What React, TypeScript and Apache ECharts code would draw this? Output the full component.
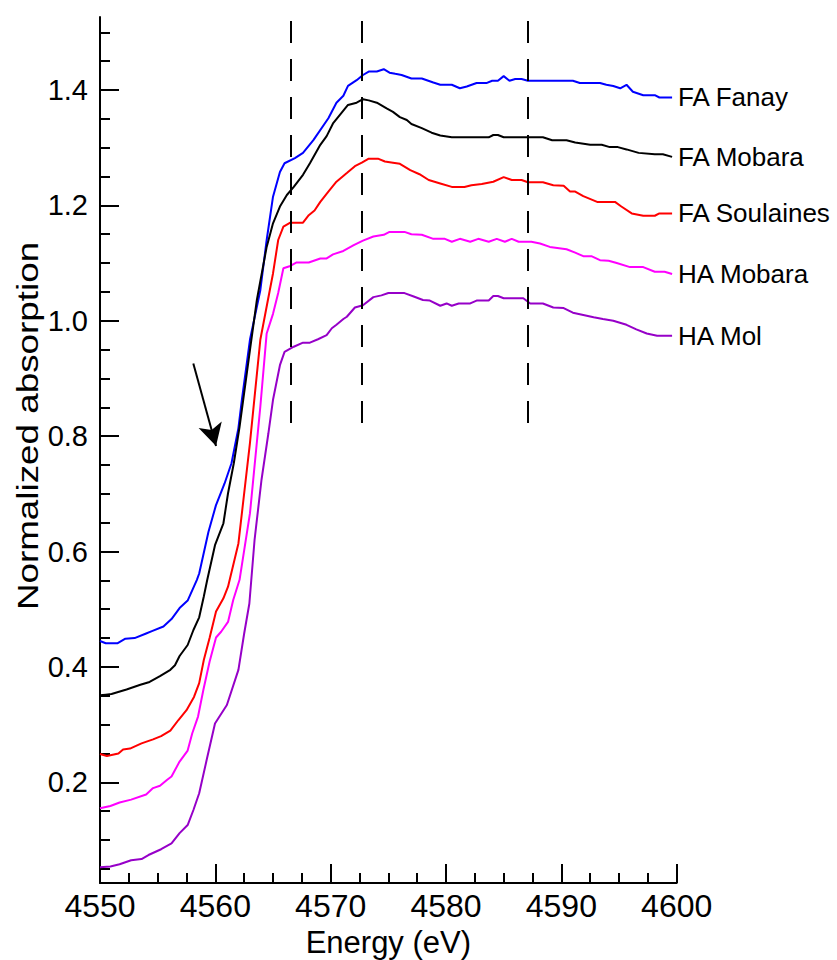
import React, { useEffect, useRef } from "react";
import * as echarts from "echarts";

// ---- Data (energy eV, normalized absorption) ----
const faFanay: [number, number][] = [
  [4550.0, 0.445], [4550.5, 0.441], [4551.5, 0.441], [4552.2, 0.449], [4553.0, 0.450],
  [4554.0, 0.458], [4554.5, 0.462], [4555.5, 0.470], [4556.2, 0.483], [4556.9, 0.502],
  [4557.6, 0.515], [4558.4, 0.551], [4558.6, 0.562], [4559.4, 0.634], [4560.05, 0.680],
  [4560.8, 0.718], [4561.4, 0.753], [4562.0, 0.814], [4562.3, 0.863], [4563.0, 0.967],
  [4563.9, 1.053], [4564.45, 1.140], [4565.0, 1.215], [4565.6, 1.258], [4566.0, 1.273],
  [4566.9, 1.282], [4567.6, 1.291], [4568.5, 1.313], [4569.8, 1.351], [4570.5, 1.378],
  [4571.1, 1.390], [4571.5, 1.407], [4572.25, 1.417], [4572.8, 1.426], [4573.3, 1.432],
  [4574.0, 1.432], [4574.6, 1.436], [4575.1, 1.430], [4575.6, 1.428], [4576.15, 1.426],
  [4577.0, 1.420], [4577.9, 1.420], [4578.9, 1.413], [4579.5, 1.409], [4580.5, 1.409],
  [4581.2, 1.403], [4581.8, 1.406], [4582.65, 1.412], [4583.5, 1.412], [4584.0, 1.416],
  [4584.5, 1.416], [4585.0, 1.424], [4585.5, 1.416], [4586.0, 1.419], [4586.55, 1.419],
  [4587.1, 1.416], [4591.0, 1.416], [4591.6, 1.412], [4593.35, 1.412], [4593.9, 1.409],
  [4594.5, 1.407], [4595.1, 1.403], [4595.65, 1.409], [4596.2, 1.397], [4597.1, 1.391],
  [4598.1, 1.391], [4598.5, 1.387], [4599.6, 1.387],
];

const faMobara: [number, number][] = [
  [4550.0, 0.351], [4550.5, 0.352], [4551.0, 0.353], [4552.3, 0.361], [4553.5, 0.369],
  [4554.3, 0.374], [4555.2, 0.384], [4556.1, 0.395], [4556.5, 0.403], [4556.9, 0.419],
  [4557.6, 0.438], [4558.1, 0.464], [4558.6, 0.486], [4559.0, 0.522], [4559.3, 0.551],
  [4559.97, 0.611], [4560.7, 0.649], [4561.1, 0.701], [4561.6, 0.753], [4562.1, 0.816],
  [4563.0, 0.949], [4563.6, 1.036], [4564.45, 1.128], [4565.0, 1.169], [4565.6, 1.198],
  [4566.2, 1.218], [4566.8, 1.232], [4567.6, 1.253], [4568.2, 1.273], [4569.1, 1.305],
  [4569.65, 1.320], [4570.2, 1.342], [4570.8, 1.357], [4571.5, 1.374], [4572.25, 1.378],
  [4572.8, 1.384], [4573.3, 1.382], [4574.0, 1.378], [4574.85, 1.368], [4575.4, 1.362],
  [4576.0, 1.353], [4576.6, 1.348], [4577.0, 1.341], [4577.9, 1.334], [4578.75, 1.326],
  [4579.5, 1.321], [4580.5, 1.318], [4583.7, 1.318], [4584.1, 1.322], [4584.5, 1.322],
  [4585.0, 1.318], [4588.4, 1.318], [4589.2, 1.313], [4590.45, 1.313], [4591.2, 1.309],
  [4592.5, 1.305], [4593.5, 1.305], [4594.2, 1.301], [4594.9, 1.301], [4595.65, 1.297],
  [4596.7, 1.291], [4598.1, 1.2885], [4598.8, 1.2885], [4599.6, 1.284],
];

const faSoulaines: [number, number][] = [
  [4550.0, 0.249], [4550.6, 0.2455], [4551.6, 0.250], [4552.0, 0.257], [4552.6, 0.2585],
  [4553.6, 0.2676], [4554.6, 0.2745], [4555.3, 0.280], [4556.1, 0.2895], [4556.8, 0.308],
  [4557.5, 0.325], [4558.15, 0.348], [4558.6, 0.372], [4559.0, 0.412], [4559.5, 0.450],
  [4560.06, 0.496], [4560.7, 0.519], [4561.1, 0.539], [4562.0, 0.614], [4563.0, 0.788],
  [4563.9, 0.967], [4564.5, 1.030], [4565.0, 1.082], [4565.45, 1.140], [4565.9, 1.163],
  [4566.5, 1.170], [4567.6, 1.170], [4568.1, 1.183], [4568.6, 1.191], [4569.1, 1.206],
  [4569.8, 1.224], [4570.5, 1.241], [4571.4, 1.256], [4572.1, 1.268], [4572.7, 1.274],
  [4573.3, 1.281], [4574.1, 1.281], [4574.7, 1.276], [4575.4, 1.274], [4576.0, 1.272],
  [4576.9, 1.261], [4577.7, 1.254], [4578.5, 1.244], [4579.5, 1.238], [4580.5, 1.232],
  [4581.6, 1.232], [4582.2, 1.235], [4583.1, 1.237], [4584.1, 1.241], [4585.0, 1.249],
  [4585.7, 1.244], [4586.55, 1.244], [4587.1, 1.240], [4588.4, 1.240], [4589.3, 1.235],
  [4590.2, 1.234], [4590.75, 1.224], [4591.2, 1.224], [4591.9, 1.216], [4593.1, 1.206],
  [4594.65, 1.206], [4595.2, 1.198], [4596.1, 1.186], [4597.1, 1.182], [4598.1, 1.182],
  [4598.5, 1.186], [4599.6, 1.186],
];

const haMobara: [number, number][] = [
  [4550.0, 0.155], [4550.9, 0.159], [4551.7, 0.165], [4552.7, 0.170], [4554.0, 0.179],
  [4554.6, 0.190], [4555.2, 0.194], [4555.8, 0.204], [4556.2, 0.210], [4556.9, 0.236],
  [4557.6, 0.255], [4558.0, 0.285], [4558.5, 0.314], [4558.96, 0.360], [4559.5, 0.409],
  [4560.06, 0.451], [4560.5, 0.461], [4561.1, 0.478], [4561.55, 0.516], [4562.1, 0.551],
  [4563.0, 0.666], [4563.9, 0.851], [4564.45, 0.978], [4565.0, 1.012], [4565.45, 1.048],
  [4565.9, 1.091], [4566.5, 1.095], [4567.05, 1.101], [4568.1, 1.101], [4569.1, 1.108],
  [4569.65, 1.108], [4570.2, 1.115], [4571.1, 1.121], [4572.0, 1.131], [4572.8, 1.139],
  [4573.7, 1.146], [4574.6, 1.149], [4575.1, 1.154], [4576.4, 1.154], [4577.0, 1.150],
  [4577.9, 1.149], [4578.9, 1.142], [4579.9, 1.142], [4580.5, 1.137], [4581.2, 1.142],
  [4582.1, 1.137], [4582.8, 1.142], [4583.7, 1.137], [4584.4, 1.142], [4585.1, 1.137],
  [4585.7, 1.142], [4586.3, 1.137], [4587.4, 1.137], [4588.15, 1.134], [4589.0, 1.128],
  [4590.45, 1.124], [4591.2, 1.118], [4591.9, 1.112], [4592.6, 1.112], [4593.35, 1.105],
  [4594.1, 1.104], [4594.8, 1.100], [4595.95, 1.093], [4597.1, 1.093], [4598.1, 1.085],
  [4598.95, 1.085], [4599.6, 1.081],
];

const haMol: [number, number][] = [
  [4550.0, 0.053], [4550.9, 0.054], [4551.7, 0.058], [4552.7, 0.065], [4553.6, 0.067],
  [4554.2, 0.074], [4555.3, 0.084], [4556.2, 0.094], [4556.9, 0.112], [4557.6, 0.126],
  [4558.1, 0.152], [4558.6, 0.181], [4559.25, 0.239], [4559.97, 0.302], [4561.0, 0.334],
  [4562.0, 0.395], [4562.5, 0.458], [4562.95, 0.510], [4563.4, 0.620], [4564.0, 0.724],
  [4564.6, 0.805], [4565.0, 0.863], [4565.6, 0.923], [4566.0, 0.946], [4566.8, 0.955],
  [4567.6, 0.962], [4568.2, 0.962], [4568.9, 0.968], [4569.65, 0.975], [4570.1, 0.987],
  [4570.5, 0.993], [4571.1, 1.003], [4571.4, 1.007], [4572.1, 1.023], [4572.8, 1.027],
  [4573.7, 1.041], [4574.4, 1.044], [4575.0, 1.048], [4576.4, 1.048], [4577.2, 1.042],
  [4578.0, 1.036], [4578.6, 1.035], [4579.5, 1.026], [4580.05, 1.030], [4580.5, 1.026],
  [4581.1, 1.030], [4582.1, 1.030], [4582.65, 1.035], [4583.7, 1.035], [4584.1, 1.043],
  [4584.5, 1.043], [4585.0, 1.039], [4586.7, 1.039], [4587.3, 1.030], [4588.4, 1.030],
  [4589.3, 1.023], [4590.2, 1.022], [4591.0, 1.014], [4591.9, 1.010], [4592.8, 1.006],
  [4593.6, 1.003], [4594.5, 1.000], [4595.65, 0.993], [4596.5, 0.985], [4597.4, 0.978],
  [4598.3, 0.974], [4599.6, 0.974],
];

const seriesNames = ["FA Fanay", "FA Mobara", "FA Soulaines", "HA Mobara", "HA Mol"];
const seriesColors = ["#0000ff", "#000000", "#ff0000", "#ff00ff", "#9600c8"];
const seriesData = [faFanay, faMobara, faSoulaines, haMobara, haMol];

// dashed reference energies and their vertical extent
const dashedEnergies = [4566.57, 4572.7, 4587.1];
const dashedRange = [0.823, 1.5265];
// arrow (start -> tip)
const arrowStart = [4558.09, 0.926];
const arrowEnd = [4560.06, 0.783];

const xMin = 4550;
const xMax = 4600;
const yMin = 0.0255;
const yMax = 1.5265;
const yMajorTicks = [0.2, 0.4, 0.6, 0.8, 1.0, 1.2, 1.4];
const yMinorTicks = [0.05, 0.1, 0.15, 0.25, 0.3, 0.35, 0.45, 0.5, 0.55, 0.65, 0.7, 0.75, 0.85, 0.9, 0.95, 1.05, 1.1, 1.15, 1.25, 1.3, 1.35, 1.45, 1.5];

const FONT = "'Liberation Sans', Arial, Helvetica, sans-serif";

export default function App() {
  const ref = useRef<HTMLDivElement>(null);
  useEffect(() => {
    if (!ref.current) return;
    const chart = echarts.init(ref.current, undefined, { renderer: "svg" });
    const series: any[] = seriesData.map((d, i) => ({
      type: "line",
      name: seriesNames[i],
      data: d,
      showSymbol: false,
      symbol: "none",
      lineStyle: { color: seriesColors[i], width: 2 },
      itemStyle: { color: seriesColors[i] },
      z: 3,
      endLabel: {
        show: true,
        formatter: seriesNames[i],
        color: "#000",
        fontSize: 26,
        fontFamily: FONT,
        distance: 6,
      },
    }));
    series[0].markLine = {
      silent: true,
      animation: false,
      symbol: ["none", "none"],
      label: { show: false },
      lineStyle: { color: "#000", width: 2, type: [22, 16] },
      data: dashedEnergies.map((e) => [
        { coord: [e, dashedRange[0]] },
        { coord: [e, dashedRange[1]] },
      ]),
    };
    series[1].markLine = {
      silent: true,
      animation: false,
      symbol: ["none", "arrow"],
      symbolSize: [18, 22],
      label: { show: false },
      lineStyle: { color: "#000", width: 2, type: "solid" },
      data: [[{ coord: arrowStart }, { coord: arrowEnd }]],
    };
    chart.setOption({
      animation: false,
      backgroundColor: "#ffffff",
      grid: {
        left: 100,
        right: 160.3,
        top: 17,
        bottom: 77,
        containLabel: false,
        outerBoundsMode: "none",
      },
      xAxis: {
        type: "value",
        min: xMin,
        max: xMax,
        interval: 10,
        name: "Energy (eV)",
        nameLocation: "middle",
        nameGap: 42,
        nameTextStyle: { fontSize: 31, fontFamily: FONT, color: "#000" },
        axisLine: { show: true, onZero: false, lineStyle: { color: "#000", width: 2 } },
        axisTick: { show: true, inside: true, length: 19, lineStyle: { color: "#000", width: 2 } },
        minorTick: { show: true, splitNumber: 4, length: 10, lineStyle: { color: "#000", width: 2 } },
        axisLabel: {
          fontSize: 32,
          fontFamily: FONT,
          color: "#000",
          margin: 7,
          formatter: (v: number) => String(Math.round(v)),
        },
        splitLine: { show: false },
      },
      yAxis: [
        {
          type: "value",
          min: yMin,
          max: yMax,
          axisLine: { show: true, onZero: false, lineStyle: { color: "#000", width: 2 } },
          axisTick: { show: true, inside: true, length: 19, customValues: yMajorTicks, lineStyle: { color: "#000", width: 2 } },
          axisLabel: {
            fontSize: 29,
            fontFamily: FONT,
            color: "#000",
            margin: 12,
            customValues: yMajorTicks,
            formatter: (v: number) => v.toFixed(1),
          },
          splitLine: { show: false },
        },
        {
          type: "value",
          min: yMin,
          max: yMax,
          position: "left",
          axisLine: { show: false },
          axisTick: { show: true, inside: true, length: 10, customValues: yMinorTicks, lineStyle: { color: "#000", width: 2 } },
          axisLabel: { show: false },
          splitLine: { show: false },
        },
      ],
      graphic: [
        {
          type: "text",
          x: 28,
          y: 426,
          rotation: Math.PI / 2,
          scaleX: 1.27,
          style: {
            text: "Normalized absorption",
            fontSize: 29,
            fontFamily: FONT,
            fill: "#000",
            align: "center",
            verticalAlign: "middle",
          },
        },
      ],
      series,
    });
    return () => chart.dispose();
  }, []);
  return (
    <div
      ref={ref}
      style={{ position: "fixed", left: 0, top: 0, width: 837, height: 960, background: "#fff" }}
    />
  );
}
